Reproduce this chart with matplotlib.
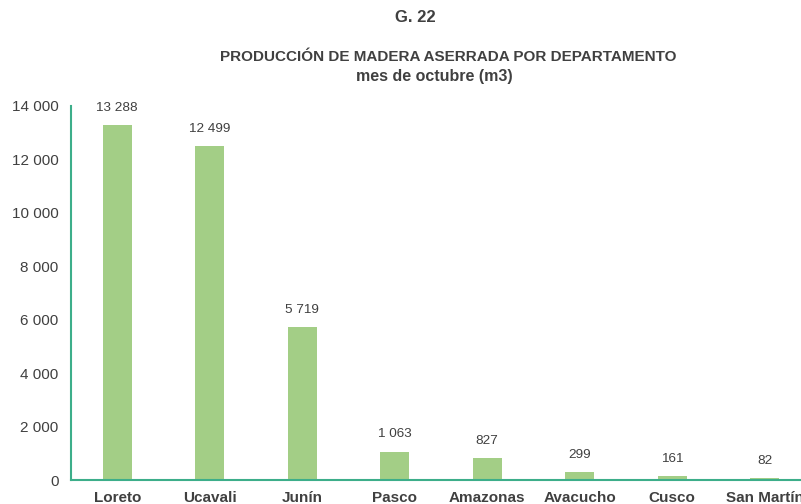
import matplotlib.pyplot as plt
from matplotlib.ticker import FuncFormatter

# Data
departamentos = ["Loreto", "Ucavali", "Junín", "Pasco", "Amazonas", "Avacucho", "Cusco", "San Martín"]
produccion = [13288, 12499, 5719, 1063, 827, 299, 161, 82]
y_ticks = [0, 2000, 4000, 6000, 8000, 10000, 12000, 14000]

BAR_COLOR = "#A3CE86"
AXIS_COLOR = "#3DAE8A"
TEXT_COLOR = "#404040"


def miles(v, pos=None):
    return f"{int(v):,}".replace(",", " ")


plt.rcParams['font.family'] = ['Liberation Sans', 'DejaVu Sans']

fig = plt.figure(figsize=(8.01, 5.04), dpi=100)
ax = fig.add_axes([71 / 801, 24 / 504, 740 / 801, 374 / 504])

x = range(len(departamentos))
bars = ax.bar(x, produccion, width=0.31, color=BAR_COLOR, zorder=2)

for xi, v in zip(x, produccion):
    ax.annotate(miles(v), (xi, v), xytext=(0, 8), textcoords="offset points",
                ha="center", va="bottom", fontsize=9.7, color=TEXT_COLOR)

ax.set_xlim(-0.5, 7.5)
ax.set_ylim(0, 14000)
ax.set_yticks(y_ticks)
ax.yaxis.set_major_formatter(FuncFormatter(miles))
ax.set_xticks(list(x))
ax.set_xticklabels(departamentos, fontweight="bold")
ax.tick_params(axis="y", length=0, pad=9, labelsize=11, labelcolor=TEXT_COLOR)
ax.tick_params(axis="x", length=0, pad=8, labelsize=11, labelcolor=TEXT_COLOR)

for side in ["top", "right"]:
    ax.spines[side].set_visible(False)
for side in ["left", "bottom"]:
    ax.spines[side].set_color(AXIS_COLOR)
    ax.spines[side].set_linewidth(1.5)

fig.text(415 / 801, 1 - 18 / 504, "G. 22", ha="center", va="center",
         fontsize=12, fontweight="bold", color=TEXT_COLOR)
fig.text(448 / 801, 1 - 57 / 504, "PRODUCCIÓN DE MADERA ASERRADA POR DEPARTAMENTO",
         ha="center", va="center", fontsize=11, fontweight="bold", color=TEXT_COLOR)
fig.text(434 / 801, 1 - 77 / 504, "mes de octubre (m3)", ha="center", va="center",
         fontsize=11.5, fontweight="bold", color=TEXT_COLOR)

fig.savefig("out.png", dpi=100)
